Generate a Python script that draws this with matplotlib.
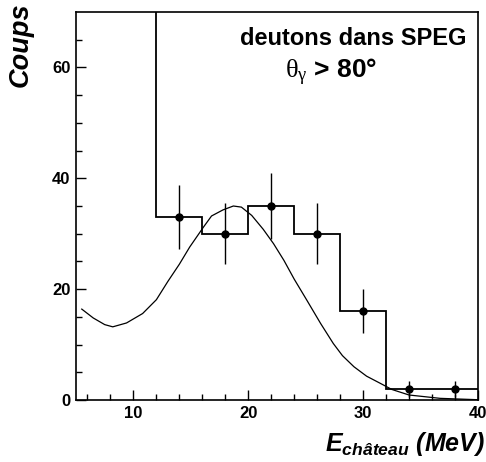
import numpy as np
import matplotlib
matplotlib.use("Agg")
import matplotlib.pyplot as plt

plt.rcParams["font.family"] = ["Liberation Sans", "DejaVu Sans"]
plt.rcParams["mathtext.fontset"] = "custom"
plt.rcParams["mathtext.rm"] = "Liberation Serif"
plt.rcParams["mathtext.bfit"] = "Liberation Sans:italic:bold"

# deuteron counts per 4 MeV bin (first bin is off scale)
bin_edges = [8, 12, 16, 20, 24, 28, 32, 36, 40]
counts = [95, 33, 30, 35, 30, 16, 2, 2]

# simulated spectrum, normalised
curve_x = [5.5, 6.5, 7.5, 8.2, 9.4, 10.8, 12.0, 13.0, 14.0, 14.9, 16.1, 16.8,
           17.8, 18.7, 19.4, 20.3, 21.3, 22.2, 23.1, 24.0, 25.1, 26.3, 27.4,
           28.2, 29.2, 30.3, 31.5, 32.5, 34.0, 36.7, 40.0]
curve_y = [16.4, 14.8, 13.6, 13.2, 13.9, 15.6, 18.1, 21.4, 24.5, 27.6, 31.2, 33.2,
           34.3, 35.0, 34.8, 33.3, 30.8, 28.2, 25.2, 21.8, 18.0, 13.8, 10.2,
           8.0, 6.0, 4.3, 3.0, 1.9, 0.9, 0.3, 0.05]

edges = np.array(bin_edges, dtype=float)
n = np.array(counts, dtype=float)
centers = 0.5 * (edges[:-1] + edges[1:])

fig = plt.figure(figsize=(4.86, 4.62), dpi=100)
ax = fig.add_axes([0.1564, 0.1342, 0.8271, 0.8398])

ax.stairs(n, edges, baseline=None, color="black", lw=1.3)
ax.plot(curve_x, curve_y, color="black", lw=0.9)
pts = slice(1, None)
ax.errorbar(centers[pts], n[pts], yerr=np.sqrt(n[pts]), fmt="o", color="black",
            ms=5, lw=1.0, capsize=0)

ax.set_xlim(5, 40)
ax.set_ylim(0, 70)
ax.set_xticks([10, 20, 30, 40])
ax.set_xticks(np.arange(6, 40, 2), minor=True)
ax.set_yticks([0, 20, 40, 60])
ax.set_yticks(np.arange(0, 70, 5), minor=True)
ax.tick_params(which="both", direction="in", top=False, right=False,
               labelsize=12, width=1.0)
ax.tick_params(which="major", length=7, pad=4)
ax.tick_params(which="minor", length=4)
for lab in ax.get_xticklabels() + ax.get_yticklabels():
    lab.set_fontweight("bold")
for sp in ax.spines.values():
    sp.set_linewidth(1.2)

ax.text(0.69, 0.933, "deutons dans SPEG", transform=ax.transAxes,
        ha="center", va="center", fontsize=17, fontweight="bold")
ax.text(0.635, 0.843, r"$\mathrm{\theta_{\gamma}}$ > 80°", transform=ax.transAxes,
        ha="center", va="center", fontsize=19, fontweight="bold")

fig.text(0.043, 0.994, "Coups", rotation=90, ha="center", va="top",
         fontsize=19.5, fontweight="bold", fontstyle="italic")
fig.text(0.997, 0.024, r"$\mathbfit{E}_{\mathbfit{château}}$ (MeV)", ha="right",
         va="baseline", fontsize=18, fontweight="bold", fontstyle="italic")

fig.savefig("out.png", dpi=100)
